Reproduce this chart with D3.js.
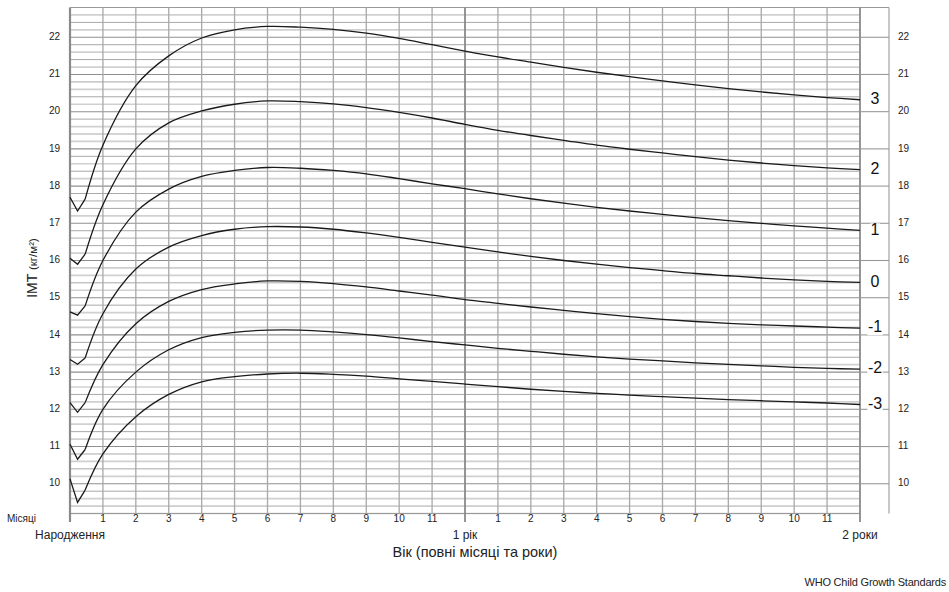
<!DOCTYPE html>
<html><head><meta charset="utf-8">
<script src="https://cdn.jsdelivr.net/npm/d3@7/dist/d3.min.js"></script>
<style>body{margin:0;background:#fff}svg{display:block;font-family:"Liberation Sans",Arial,sans-serif}</style>
</head><body>
<svg id="c" width="949" height="592"></svg>
<script>
// Age points: weeks 0..2 (converted to months) then months 1..24
const ageWeeks = [0,1,2];
const ageMonths = [1,2,3,4,5,6,7,8,9,10,11,12,13,14,15,16,17,18,19,20,21,22,23,24];

const sd3 = [17.7,17.33,17.65,
  19.1,20.7,21.5,21.98,22.20,22.29,22.27,22.21,22.11,21.97,21.80,21.63,21.47,21.33,21.19,21.06,20.94,20.83,20.72,20.62,20.53,20.45,20.38,20.32];
const sd2 = [16.06,15.9,16.17,
  17.5,19.0,19.7,20.02,20.20,20.29,20.27,20.21,20.11,19.98,19.83,19.66,19.50,19.36,19.23,19.10,18.99,18.89,18.79,18.70,18.62,18.55,18.49,18.44];
const sd1 = [14.62,14.53,14.78,
  16.0,17.3,17.92,18.26,18.42,18.50,18.48,18.42,18.33,18.20,18.06,17.93,17.79,17.66,17.54,17.43,17.33,17.24,17.15,17.07,17.00,16.93,16.87,16.81];
const sd0 = [13.34,13.21,13.38,
  14.57,15.77,16.36,16.67,16.84,16.91,16.90,16.84,16.74,16.62,16.49,16.36,16.23,16.11,16.00,15.90,15.81,15.73,15.65,15.59,15.53,15.48,15.44,15.41];
const sd1neg = [12.18,11.92,12.18,
  13.2,14.3,14.9,15.22,15.37,15.45,15.44,15.38,15.29,15.18,15.07,14.95,14.85,14.75,14.66,14.57,14.49,14.42,14.36,14.31,14.27,14.24,14.21,14.18];
const sd2neg = [11.06,10.66,10.92,
  12.0,13.0,13.6,13.93,14.07,14.13,14.13,14.08,14.01,13.92,13.82,13.73,13.64,13.56,13.48,13.41,13.35,13.30,13.25,13.21,13.17,13.13,13.10,13.08];
const sd3neg = [10.13,9.5,9.83,
  10.8,11.8,12.4,12.74,12.88,12.95,12.97,12.94,12.89,12.82,12.75,12.68,12.61,12.54,12.48,12.43,12.38,12.34,12.30,12.26,12.23,12.20,12.17,12.13];

const seriesNames = ["3","2","1","0","-1","-2","-3"];
const seriesValues = [sd3, sd2, sd1, sd0, sd1neg, sd2neg, sd3neg];

const yTicks = [10,11,12,13,14,15,16,17,18,19,20,21,22];
const monthTicks = [1,2,3,4,5,6,7,8,9,10,11];
const yearLabels = [[0,"Народження"],[12,"1 рік"],[24,"2 роки"]];

const ages = ageWeeks.map(w => w*7/30.4375).concat(ageMonths);

const svg = d3.select("#c");
const x = d3.scaleLinear().domain([0,24]).range([70,860]);
const y = d3.scaleLinear().domain([9.2,22.8]).range([513.5,7.5]);
const panelR = 889;

// horizontal grid
const g = svg.append("g");
const hvals = d3.range(0, 69).map(i => +(9.2 + i*0.2).toFixed(1));
hvals.forEach(v => {
  const isInt = Math.abs(v - Math.round(v)) < 1e-6;
  const k = Math.round((v - Math.floor(v + 1e-6))*10);
  let col, w;
  if (isInt) { col = "#8f8f8f"; w = 1.1; }
  else if (k === 2 || k === 6) { col = "#d0d0d0"; w = 1.7; }
  else { col = "#a8a8a8"; w = 1; }
  g.append("line").attr("x1", x(0)).attr("x2", x(24))
    .attr("y1", y(v)).attr("y2", y(v)).attr("stroke", col).attr("stroke-width", w);
});
// top & bottom border
g.append("line").attr("x1", x(0)).attr("x2", panelR).attr("y1", y(22.8)).attr("y2", y(22.8)).attr("stroke","#999").attr("stroke-width",1.2);
g.append("line").attr("x1", x(0)).attr("x2", x(24)).attr("y1", y(9.2)).attr("y2", y(9.2)).attr("stroke","#999").attr("stroke-width",1.2);

// vertical month lines
d3.range(1,24).forEach(m => {
  if (m === 12) return;
  g.append("line").attr("x1", x(m)).attr("x2", x(m)).attr("y1", y(22.8)).attr("y2", y(9.2))
    .attr("stroke", "#a8a8a8").attr("stroke-width", 1.3);
});
[0,12,24].forEach(m => {
  g.append("line").attr("x1", x(m)).attr("x2", x(m)).attr("y1", y(22.8)).attr("y2", 522)
    .attr("stroke", "#8a8a8a").attr("stroke-width", m===0 ? 2.2 : 1.8);
});

// right panel
yTicks.forEach(v => {
  g.append("line").attr("x1", x(24)).attr("x2", panelR).attr("y1", y(v)).attr("y2", y(v))
    .attr("stroke", "#999").attr("stroke-width", 1.1);
});
g.append("line").attr("x1", panelR).attr("x2", panelR).attr("y1", y(22.8)).attr("y2", y(9.2))
  .attr("stroke", "#999").attr("stroke-width", 1.1);

// y labels
const tl = svg.append("g").attr("font-size", 10).attr("fill", "#222");
yTicks.forEach(v => {
  tl.append("text").attr("x", 60).attr("y", y(v)).attr("text-anchor","end")
    .attr("dominant-baseline","middle").text(v);
  tl.append("text").attr("x", 898).attr("y", y(v)).attr("text-anchor","start")
    .attr("dominant-baseline","middle").text(v);
});

// month labels
monthTicks.forEach(m => {
  tl.append("text").attr("x", x(m)).attr("y", 522).attr("text-anchor","middle").text(m);
  tl.append("text").attr("x", x(m+12)).attr("y", 522).attr("text-anchor","middle").text(m);
});
tl.append("text").attr("x", 7).attr("y", 522).text("Місяці");

const big = svg.append("g").attr("font-size", 12).attr("fill", "#222");
yearLabels.forEach(([m, t]) => {
  big.append("text").attr("x", x(m)).attr("y", 539).attr("text-anchor","middle").text(t);
});
svg.append("text").attr("x", 475).attr("y", 557).attr("text-anchor","middle")
  .attr("font-size", 14.5).attr("fill","#222").text("Вік (повні місяці та роки)");

const yt = svg.append("text").attr("transform","translate(37,268) rotate(-90)")
  .attr("text-anchor","middle").attr("fill","#222");
yt.append("tspan").attr("font-size", 14).text("IMT ");
yt.append("tspan").attr("font-size", 11.5).text("(кг/м²)");

svg.append("text").attr("x", 946).attr("y", 586).attr("text-anchor","end")
  .attr("font-size", 11).attr("fill","#222").attr("letter-spacing", -0.2).text("WHO Child Growth Standards");

// curves
const lineLin = d3.line().x(d => x(d[0])).y(d => y(d[1]));
const lineSmooth = d3.line().x(d => x(d[0])).y(d => y(d[1])).curve(d3.curveCatmullRom.alpha(0.5));
const cg = svg.append("g").attr("fill","none").attr("stroke","#1a1a1a").attr("stroke-width",1.3);
seriesValues.forEach(vals => {
  const pts = ages.map((a,i) => [a, vals[i]]);
  cg.append("path").attr("d", lineLin(pts.slice(0,3)));
  cg.append("path").attr("d", lineSmooth(pts.slice(2)));
});

// z labels
const zg = svg.append("g");
seriesNames.forEach((n, i) => {
  const vals = seriesValues[i];
  const yy = y(vals[vals.length-1]);
  const t = zg.append("text").attr("x", 875).attr("y", yy).attr("text-anchor","middle")
    .attr("dominant-baseline","middle").attr("font-size", 16).attr("fill","#111").text(n);
  const bb = t.node().getBBox();
  zg.insert("rect", "text").attr("x", bb.x-0.5).attr("y", yy-7).attr("width", bb.width+1).attr("height", 14).attr("fill","#fff");
});
</script>
</body></html>
